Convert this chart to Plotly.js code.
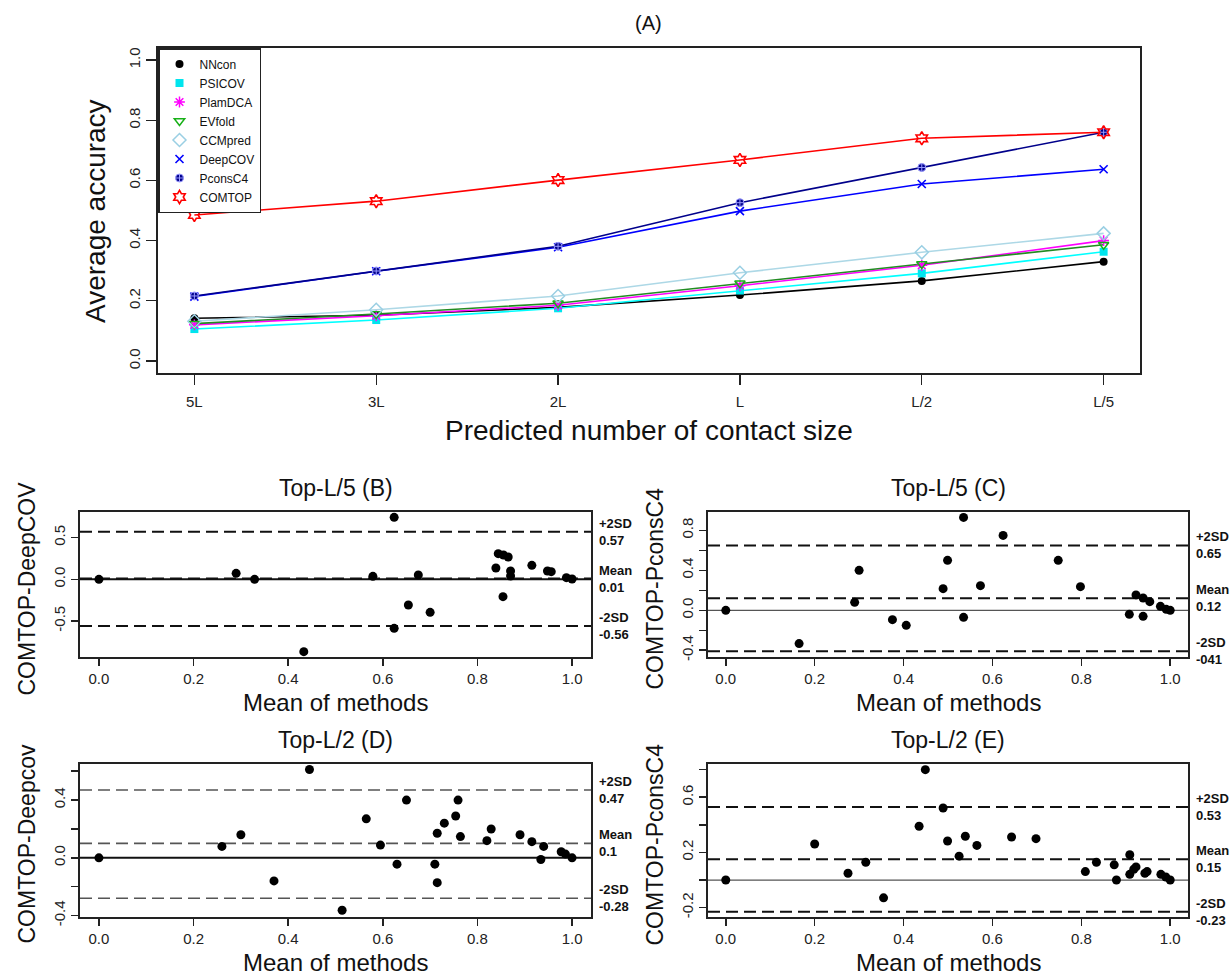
<!DOCTYPE html>
<html>
<head>
<meta charset="utf-8">
<script src="https://cdn.plot.ly/plotly-3.0.1.min.js"></script>
<style>html,body{margin:0;padding:0;background:#fff;}#chart{width:1230px;height:976px;}</style>
</head>
<body>
<div id="chart"></div>
<script>
// ---------- Panel (A) data ----------
const categories = ["5L", "3L", "2L", "L", "L/2", "L/5"];
const methodNames = ["NNcon", "PSICOV", "PlamDCA", "EVfold", "CCMpred", "DeepCOV", "PconsC4", "COMTOP"];
const NNcon   = [0.142, 0.152, 0.178, 0.219, 0.266, 0.330];
const PSICOV  = [0.106, 0.136, 0.175, 0.234, 0.291, 0.363];
const PlamDCA = [0.120, 0.150, 0.185, 0.250, 0.318, 0.400];
const EVfold  = [0.124, 0.156, 0.192, 0.258, 0.322, 0.386];
const CCMpred = [0.132, 0.170, 0.216, 0.293, 0.361, 0.424];
const DeepCOV = [0.214, 0.298, 0.378, 0.498, 0.588, 0.637];
const PconsC4 = [0.216, 0.299, 0.381, 0.526, 0.643, 0.760];
const COMTOP  = [0.485, 0.531, 0.601, 0.668, 0.740, 0.760];
const yTicksA = [0, 0.2, 0.4, 0.6, 0.8, 1.0];
const yTickTextA = ["0.0", "0.2", "0.4", "0.6", "0.8", "1.0"];

// ---------- Bland-Altman panels ----------
const meanTicks = [0, 0.2, 0.4, 0.6, 0.8, 1.0];
const meanTickText = ["0.0", "0.2", "0.4", "0.6", "0.8", "1.0"];

// (B) Top-L/5 COMTOP-DeepCOV
const bMean = [0, 0.290, 0.329, 0.433, 0.579, 0.624, 0.624, 0.654, 0.675, 0.700, 0.839, 0.844, 0.855, 0.865, 0.854, 0.870, 0.870, 0.915, 0.948, 0.956, 0.988, 1.0];
const bDiff = [0, 0.072, 0, -0.868, 0.036, 0.744, -0.588, -0.308, 0.052, -0.396, 0.136, 0.308, 0.292, 0.268, -0.208, 0.100, 0.040, 0.168, 0.100, 0.092, 0.020, 0.004];
const bLimits = [0.57, 0.01, -0.56];
const bLabels = ["+2SD<br>0.57", "Mean<br>0.01", "-2SD<br>-0.56"];
const bTicks = [-0.5, 0, 0.5];
const bTickText = ["-0.5", "0.0", "0.5"];

// (C) Top-L/5 COMTOP-PconsC4
const cMean = [0, 0.165, 0.290, 0.300, 0.375, 0.406, 0.489, 0.499, 0.535, 0.535, 0.573, 0.624, 0.748, 0.798, 0.908, 0.923, 0.939, 0.939, 0.954, 0.978, 0.991, 1.0];
const cDiff = [0, -0.333, 0.080, 0.400, -0.093, -0.150, 0.217, 0.500, 0.930, -0.070, 0.247, 0.750, 0.500, 0.237, -0.040, 0.153, 0.123, -0.060, 0.087, 0.040, 0.010, 0];
const cLimits = [0.65, 0.12, -0.41];
const cLabels = ["+2SD<br>0.65", "Mean<br>0.12", "-2SD<br>-041"];
const cTicks = [-0.4, -0.2, 0, 0.2, 0.4, 0.6, 0.8];
const cTickText = ["-0.4", "", "0.0", "", "0.4", "", "0.8"];

// (D) Top-L/2 COMTOP-Deepcov
const dMean = [0, 0.260, 0.300, 0.370, 0.445, 0.514, 0.565, 0.595, 0.630, 0.650, 0.710, 0.715, 0.715, 0.730, 0.754, 0.759, 0.764, 0.820, 0.829, 0.890, 0.915, 0.934, 0.940, 0.977, 0.986, 1.0];
const dDiff = [0, 0.079, 0.160, -0.160, 0.612, -0.363, 0.270, 0.088, -0.044, 0.400, -0.044, 0.170, -0.172, 0.240, 0.290, 0.400, 0.147, 0.119, 0.200, 0.160, 0.112, -0.012, 0.079, 0.042, 0.026, 0];
const dLimits = [0.47, 0.1, -0.28];
const dLabels = ["+2SD<br>0.47", "Mean<br>0.1", "-2SD<br>-0.28"];
const dTicks = [-0.4, -0.2, 0, 0.2, 0.4, 0.6];
const dTickText = ["-0.4", "", "0.0", "", "0.4", ""];

// (E) Top-L/2 COMTOP-PconsC4
const eMean = [0, 0.200, 0.275, 0.315, 0.355, 0.435, 0.449, 0.489, 0.499, 0.525, 0.539, 0.565, 0.643, 0.698, 0.809, 0.834, 0.874, 0.879, 0.909, 0.909, 0.918, 0.923, 0.943, 0.948, 0.979, 0.990, 1.0];
const eDiff = [0, 0.261, 0.049, 0.129, -0.129, 0.390, 0.800, 0.522, 0.283, 0.173, 0.317, 0.251, 0.312, 0.300, 0.061, 0.129, 0.110, 0.000, 0.183, 0.041, 0.078, 0.095, 0.049, 0.061, 0.041, 0.022, 0];
const eLimits = [0.53, 0.15, -0.23];
const eLabels = ["+2SD<br>0.53", "Mean<br>0.15", "-2SD<br>-0.23"];
const eTicks = [-0.2, 0, 0.2, 0.4, 0.6, 0.8];
const eTickText = ["-0.2", "", "0.2", "", "0.6", ""];

// ---------- layout helpers ----------
const W = 1230, H = 976;
const FONT = "Liberation Sans, Arial, sans-serif";
const px = v => v / W;
const py = v => 1 - v / H;

const seriesData = [NNcon, PSICOV, PlamDCA, EVfold, CCMpred, DeepCOV, PconsC4, COMTOP];
const styles = [
  {color: "#000000", symbol: "circle", size: 8, lw: 0, mcolor: "#000000"},
  {color: "#00FFFF", symbol: "square", size: 8, lw: 0, mcolor: "#00E5EE"},
  {color: "#FF00FF", symbol: "asterisk-open", size: 9, lw: 1.5, mcolor: "#FF00FF"},
  {color: "#228B22", symbol: "triangle-down-open", size: 9, lw: 1.5, mcolor: "#18B018"},
  {color: "#ADD8E6", symbol: "diamond-open", size: 10, lw: 1.5, mcolor: "#9ACFE3"},
  {color: "#0000FF", symbol: "x-thin-open", size: 8, lw: 1.6, mcolor: "#0000FF"},
  {color: "#00008B", symbol: "circle-cross", size: 8, lw: 1, mcolor: "#00008B"},
  {color: "#FF0000", symbol: "hexagram-open", size: 10, lw: 1.6, mcolor: "#FF0000"}
];

const traces = [];
seriesData.forEach((ys, i) => {
  traces.push({
    x: categories, y: ys, type: "scatter", mode: "lines", xaxis: "x", yaxis: "y",
    line: {color: styles[i].color, width: 1.6}, showlegend: false, hoverinfo: "skip"
  });
});
seriesData.forEach((ys, i) => {
  const s = styles[i];
  const mk = {symbol: s.symbol, size: s.size, color: s.mcolor};
  if (s.symbol === "circle-cross") mk.line = {color: "#9a9aff", width: 1};
  else if (s.lw > 0) mk.line = {color: s.mcolor, width: s.lw};
  traces.push({
    x: categories, y: ys, type: "scatter", mode: "markers", name: methodNames[i],
    xaxis: "x", yaxis: "y", marker: mk, cliponaxis: false
  });
});

const panels = [
  {mx: bMean, dy: bDiff, ax: "2", lim: bLimits, lab: bLabels, ticks: bTicks, tt: bTickText, range: [-0.932, 0.808],
   dom: [80, 591, 512, 657], title: "Top-L/5 (B)", ytitle: "COMTOP-DeepCOV", dashColor: "#111", zeroColor: "#111", zeroW: 2, dashW: 2},
  {mx: cMean, dy: cDiff, ax: "3", lim: cLimits, lab: cLabels, ticks: cTicks, tt: cTickText, range: [-0.467, 0.984],
   dom: [708, 1188, 512, 657], title: "Top-L/5 (C)", ytitle: "COMTOP-PconsC4", dashColor: "#111", zeroColor: "#555", zeroW: 1.2, dashW: 2},
  {mx: dMean, dy: dDiff, ax: "4", lim: dLimits, lab: dLabels, ticks: dTicks, tt: dTickText, range: [-0.41, 0.65],
   dom: [80, 591, 764, 917], title: "Top-L/2 (D)", ytitle: "COMTOP-Deepcov", dashColor: "#555", zeroColor: "#111", zeroW: 2, dashW: 1.6},
  {mx: eMean, dy: eDiff, ax: "5", lim: eLimits, lab: eLabels, ticks: eTicks, tt: eTickText, range: [-0.268, 0.841],
   dom: [708, 1188, 764, 917], title: "Top-L/2 (E)", ytitle: "COMTOP-PconsC4", dashColor: "#111", zeroColor: "#555", zeroW: 1.2, dashW: 2}
];

const layout = {
  width: W, height: H,
  margin: {l: 0, r: 0, t: 0, b: 0},
  paper_bgcolor: "#ffffff", plot_bgcolor: "#ffffff",
  font: {family: FONT, color: "#111"},
  showlegend: true,
  legend: {
    x: px(158), y: py(48), xanchor: "left", yanchor: "top",
    bgcolor: "#ffffff", bordercolor: "#222", borderwidth: 1.5,
    font: {family: FONT, size: 12, color: "#111"}, itemwidth: 30, tracegroupgap: 0
  },
  xaxis: {
    domain: [px(158), px(1140)], anchor: "y", type: "category",
    range: [-0.2, 5.2], showgrid: false, zeroline: false,
    showline: true, mirror: true, linecolor: "#222", linewidth: 1.6,
    ticks: "outside", ticklen: 10, tickwidth: 1.4, tickcolor: "#222",
    tickfont: {family: FONT, size: 15, color: "#222"}, ticklabelstandoff: 4
  },
  yaxis: {
    domain: [py(373), py(48)], anchor: "x",
    range: [-0.04, 1.04], showgrid: false, zeroline: false,
    showline: true, mirror: true, linecolor: "#222", linewidth: 1.6,
    ticks: "outside", ticklen: 10, tickwidth: 1.4, tickcolor: "#222",
    tickvals: yTicksA, ticktext: yTickTextA, tickangle: -90,
    tickfont: {family: FONT, size: 15, color: "#222"}
  },
  shapes: [],
  annotations: [
    {text: "(A)", x: px(649), y: py(23), xref: "paper", yref: "paper", showarrow: false,
     font: {family: FONT, size: 20, color: "#111"}, xanchor: "center", yanchor: "middle"},
    {text: "Average accuracy", x: px(96), y: py(211), xref: "paper", yref: "paper", showarrow: false, textangle: -90,
     font: {family: FONT, size: 28, color: "#111"}, xanchor: "center", yanchor: "middle"},
    {text: "Predicted number of contact size", x: px(649), y: py(430), xref: "paper", yref: "paper", showarrow: false,
     font: {family: FONT, size: 28, color: "#111"}, xanchor: "center", yanchor: "middle"}
  ]
};

panels.forEach(p => {
  const [l, r, t, b] = p.dom;
  const xa = "xaxis" + p.ax, ya = "yaxis" + p.ax;
  layout[xa] = {
    domain: [px(l), px(r)], anchor: "y" + p.ax, range: [-0.04, 1.04],
    showgrid: false, zeroline: false, showline: true, mirror: true, linecolor: "#222", linewidth: 2,
    ticks: "outside", ticklen: 7, tickwidth: 1.6, tickcolor: "#222",
    tickvals: meanTicks, ticktext: meanTickText,
    tickfont: {family: FONT, size: 15, color: "#222"}, ticklabelstandoff: 0
  };
  layout[ya] = {
    domain: [py(b), py(t)], anchor: "x" + p.ax, range: p.range,
    showgrid: false, zeroline: false, showline: true, mirror: true, linecolor: "#222", linewidth: 2,
    ticks: "outside", ticklen: 7, tickwidth: 1.6, tickcolor: "#222",
    tickvals: p.ticks, ticktext: p.tt, tickangle: -90,
    tickfont: {family: FONT, size: 15, color: "#222"}
  };
  traces.push({
    x: p.mx, y: p.dy, type: "scatter", mode: "markers", xaxis: "x" + p.ax, yaxis: "y" + p.ax,
    marker: {symbol: "circle", size: 9, color: "#000"}, showlegend: false, cliponaxis: false
  });
  // zero reference line
  layout.shapes.push({type: "line", xref: "x" + p.ax + " domain", yref: "y" + p.ax, x0: 0, x1: 1, y0: 0, y1: 0,
    line: {color: p.zeroColor, width: p.zeroW}, layer: "below"});
  p.lim.forEach((v, i) => {
    layout.shapes.push({type: "line", xref: "x" + p.ax + " domain", yref: "y" + p.ax, x0: 0, x1: 1, y0: v, y1: v,
      line: {color: p.dashColor, width: p.dashW, dash: "12px,6px"}, layer: "below"});
    layout.annotations.push({text: "<b>" + p.lab[i] + "</b>", xref: "paper", yref: "y" + p.ax, x: px(r + 6), y: v,
      xanchor: "left", yanchor: "middle", align: "left", showarrow: false,
      font: {family: FONT, size: 13, color: "#111"}});
  });
  const cx = (l + r) / 2;
  layout.annotations.push({text: p.title, xref: "paper", yref: "paper", x: px(cx), y: py(t - 24),
    xanchor: "center", yanchor: "middle", showarrow: false, font: {family: FONT, size: 23, color: "#111"}});
  layout.annotations.push({text: "Mean of methods", xref: "paper", yref: "paper", x: px(cx), y: py(b + 45),
    xanchor: "center", yanchor: "middle", showarrow: false, font: {family: FONT, size: 24, color: "#111"}});
  layout.annotations.push({text: p.ytitle, xref: "paper", yref: "paper", x: px(l - 54), y: py((t + b) / 2 + 4),
    xanchor: "center", yanchor: "middle", textangle: -90, showarrow: false, font: {family: FONT, size: 23, color: "#111"}});
});

Plotly.newPlot("chart", traces, layout, {displayModeBar: false, staticPlot: true});
</script>
</body>
</html>
